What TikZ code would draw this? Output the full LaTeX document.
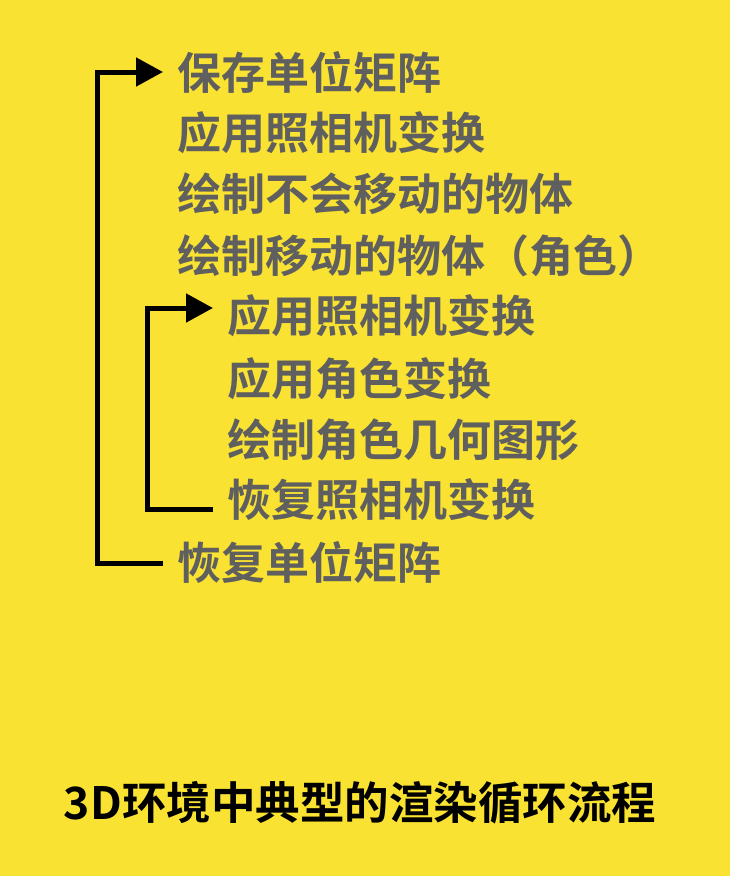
\documentclass[tikz,border=0pt]{standalone}
\usepackage{fontspec}
\setmainfont{Noto Sans CJK SC}[BoldFont={Noto Sans CJK SC Bold}]
\usepackage{tikz}
\usetikzlibrary{arrows.meta,calc}
\definecolor{colorbg}{HTML}{F9E231}
\definecolor{colorstep}{HTML}{5F5F5F}
\tikzset{
  steptext/.style={anchor=west, inner sep=0pt, colorstep, font=\fontsize{44}{45}\selectfont\bfseries},
  titletext/.style={inner sep=0pt, black, font=\fontsize{44.5}{45}\selectfont\bfseries},
  loopedge/.style={black, line width=5pt, -{Triangle[length=27pt,width=28pt]}},
  loopline/.style={black, line width=5pt}
}

\begin{document}
\begin{tikzpicture}[x=1pt, y=-1pt]
\fill[colorbg] (0,0) rectangle (730,876);
\useasboundingbox (0,0) rectangle (730,876);
\node[steptext] (s1) at (177,72) {保存单位矩阵};
\node[steptext] (s2) at (177,133) {应用照相机变换};
\node[steptext] (s3) at (177,194) {绘制不会移动的物体};
\node[steptext] (s4) at (177,256) {绘制移动的物体（角色）};
\node[steptext] (s5) at (227,316) {应用照相机变换};
\node[steptext] (s6) at (227,379) {应用角色变换};
\node[steptext] (s7) at (227,440) {绘制角色几何图形};
\node[steptext] (s8) at (227,500) {恢复照相机变换};
\node[steptext] (s9) at (177,563) {恢复单位矩阵};
\node[titletext] (title) at (360,803) {3D环境中典型的渲染循环流程};
\coordinate (outin) at ([xshift=-14pt]s1.west);
\coordinate (outout) at ([xshift=-14pt]s9.west);
\coordinate (inin) at ($(s5.west)+(-14,-8)$);
\coordinate (inout) at ($(s8.west)+(-14,9)$);
\draw[loopedge] (outout) -- ++(-66,0) |- (outin);
\draw[loopedge] (inout) -- ++(-66,0) |- (inin);
\end{tikzpicture}
\end{document}
